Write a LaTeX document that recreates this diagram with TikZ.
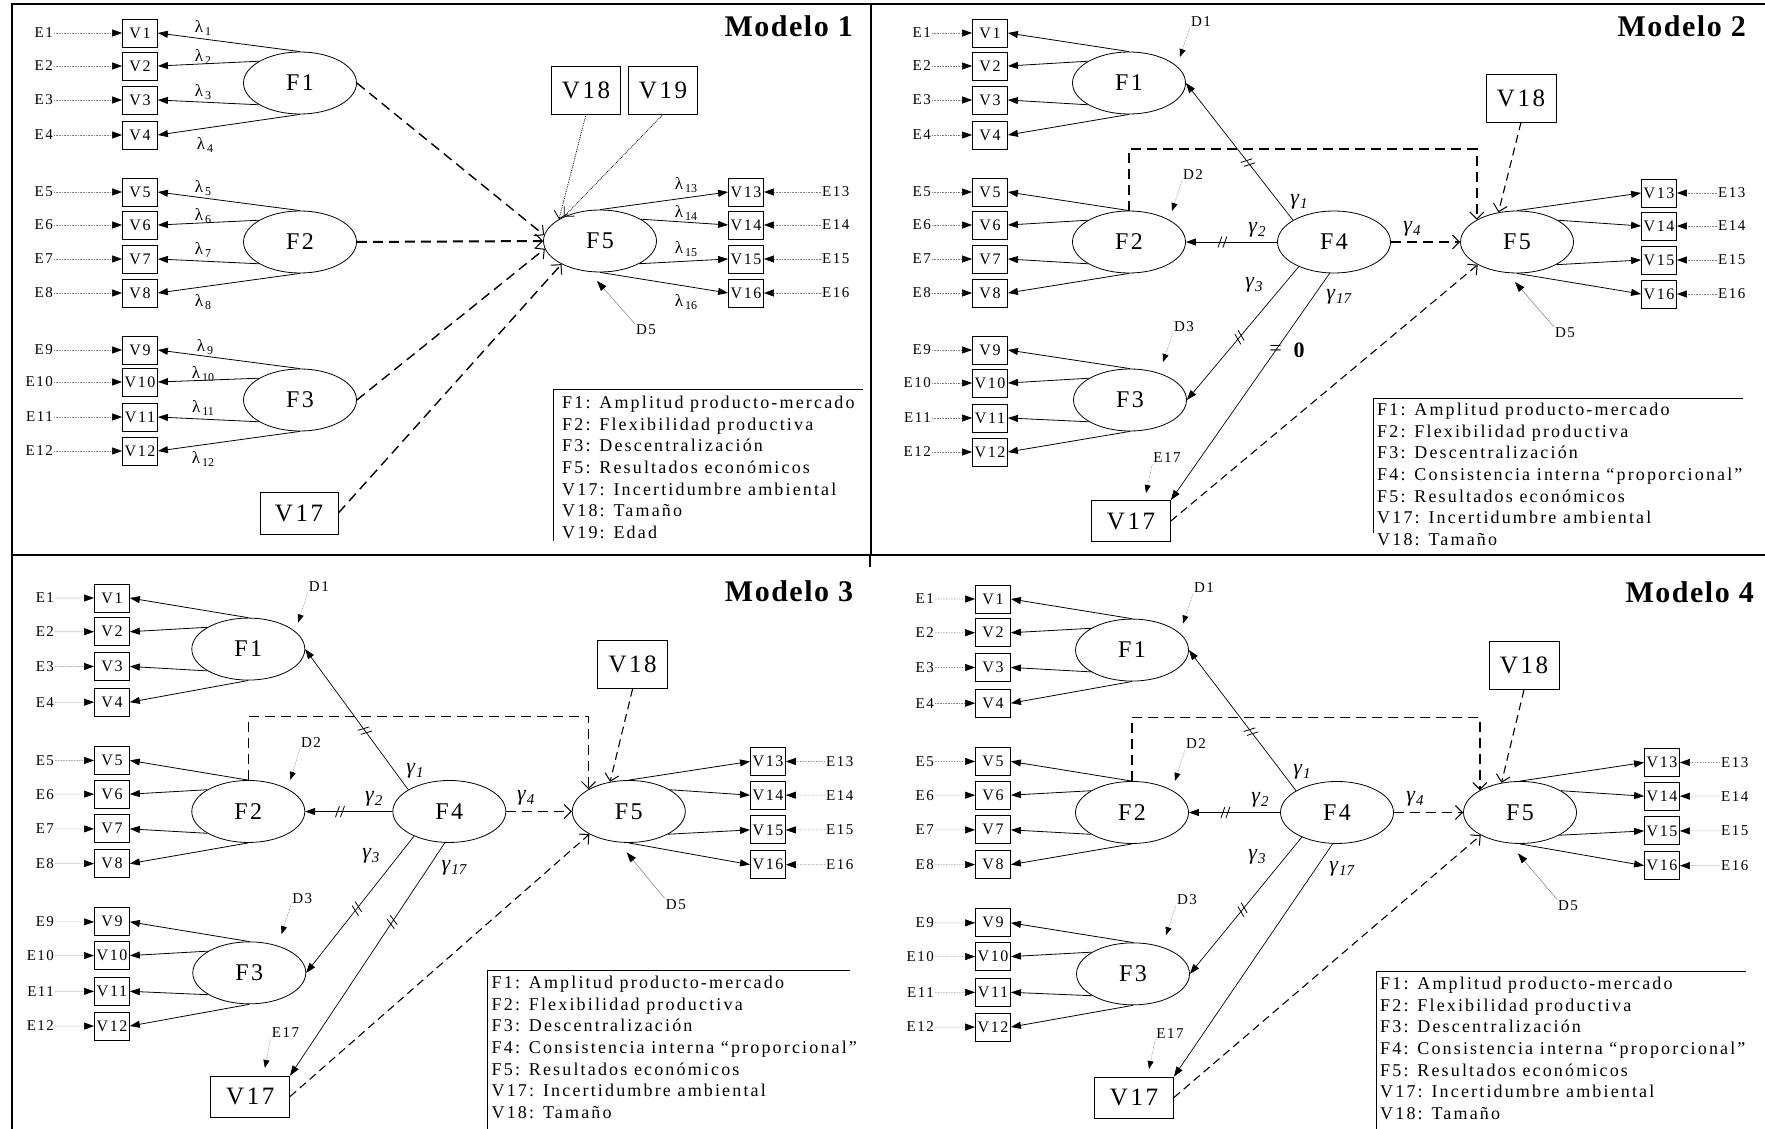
\documentclass[tikz,border=0pt]{standalone}
\usepackage{fontspec}
\setmainfont{Liberation Serif}
\newfontfamily\fspaced[LetterSpace=10]{Liberation Serif}
\newfontfamily\fwide[LetterSpace=12]{Liberation Serif}
\newfontfamily\ftitle[LetterSpace=5]{Liberation Serif}
\usetikzlibrary{arrows.meta,shapes.geometric,decorations.markings}

\newcommand\fsz[1]{\fontsize{#1}{#1}\selectfont}
\newcommand\lam[1]{λ\kern2pt\raisebox{-3pt}{\fsz{12}#1}}
\newcommand\gam[1]{\textit{γ}\kern0.5pt\raisebox{-4pt}{\fsz{15}\textit{#1}}}

\tikzset{
  x=1pt, y=-1pt,
  obs/.style={draw, line width=0.8pt, minimum width=35pt, minimum height=28pt,
    inner sep=0pt, font=\fspaced\fsz{16}},
  bigbox/.style={draw, line width=0.8pt, minimum width=70pt, minimum height=48pt,
    inner sep=0pt, font=\fspaced\fsz{25}},
  lat/.style={draw, ellipse, line width=0.8pt, minimum width=113pt,
    minimum height=62pt, inner sep=0pt, font=\fspaced\fsz{24}},
  lbl/.style={inner sep=1pt, font=\fspaced\fsz{15}},
  lamlbl/.style={inner sep=0pt, font=\fsz{17}},
  gamlbl/.style={inner sep=0pt, font=\fsz{22}},
  title/.style={anchor=east, inner sep=0pt, font=\ftitle\bfseries\fsz{30}},
  legend/.style={anchor=north west, inner sep=0pt, align=left,
    font=\fwide\fontsize{18}{21.6}\selectfont},
  load/.style={line width=0.8pt, -{Triangle[length=10pt,width=7pt]}},
  gpath/.style={line width=0.7pt, -{Triangle[length=10pt,width=7pt]}},
  errarrow/.style={line width=0.6pt, gray, densely dotted,
    -{Triangle[length=10pt,width=7pt,color=black]}},
  distarrow/.style={line width=0.6pt, gray, densely dotted,
    -{Triangle[length=8pt,width=6pt,color=black]}},
  thinarrow/.style={line width=0.5pt, gray,
    -{Triangle[length=10pt,width=7pt,color=black]}},
  effect/.style={line width=1.4pt, dash pattern=on 10pt off 6pt,
    -{Straight Barb[length=7pt,width=14pt,line width=1pt]}},
  effectthin/.style={line width=1.1pt, dash pattern=on 8pt off 5pt,
    -{Straight Barb[length=7pt,width=14pt,line width=1pt]}},
  dotarrow/.style={line width=0.8pt, densely dotted,
    -{Straight Barb[length=7pt,width=14pt,line width=0.8pt]}},
  eqtick/.style={postaction={decorate, decoration={markings,
    mark=at position #1 with {\draw[-, solid, line width=0.8pt]
      (-4.5pt,-5.6pt) -- (-0.5pt,5.6pt) (0.5pt,-5.6pt) -- (4.5pt,5.6pt);}}}},
  panel/.style n args={4}{shift={(#1,#2)}, xscale=#3, yscale=#4, shift={(-990,-33)}}
}

% Structure shared by the models with the second-order factor F4
% #1 name prefix, #2 extra style of the gamma17 path, #3 end of legend rule
\newcommand\modelbody[3]{%
  \foreach \i/\y in {1/33,2/66,3/100,4/135,5/192,6/225,7/259,8/293,9/350,10/383,11/418,12/452}{
    \node[obs] (#1V\i) at (990,\y) {V\i};
    \node[lbl, anchor=east] (#1E\i) at (932,\y) {E\i};
    \draw[errarrow] (#1E\i) -- (#1V\i);
  }
  \foreach \i/\y in {13/193,14/226,15/260,16/294}{
    \node[obs] (#1V\i) at (1659,\y) {V\i};
    \node[lbl, anchor=west] (#1E\i) at (1717,\y) {E\i};
    \draw[errarrow] (#1E\i) -- (#1V\i);
  }
  \node[lat] (#1F1) at (1129,83) {F1};
  \node[lat] (#1F2) at (1129,242) {F2};
  \node[lat] (#1F3) at (1130,400) {F3};
  \node[lat] (#1F4) at (1334,242) {F4};
  \node[lat] (#1F5) at (1517,242) {F5};
  \foreach \f/\va/\vb/\vc/\vd in {1/1/2/3/4,2/5/6/7/8,3/9/10/11/12}{
    \draw[load] (#1F\f.north) -- (#1V\va.east);
    \draw[load] (#1F\f.152) -- (#1V\vb.east);
    \draw[load] (#1F\f.208) -- (#1V\vc.east);
    \draw[load] (#1F\f.south) -- (#1V\vd.east);
  }
  \draw[load] (#1F5.north) -- (#1V13.west);
  \draw[load] (#1F5.28) -- (#1V14.west);
  \draw[load] (#1F5.-30) -- (#1V15.west);
  \draw[load] (#1F5.south) -- (#1V16.west);
  \node[bigbox] (#1V18) at (1521,98) {V18};
  \node[bigbox, minimum width=79pt, minimum height=41pt] (#1V17) at (1131,521) {V17};
  % disturbances
  \node[lbl] (#1D1) at (1201,22) {D1};
  \coordinate (#1D1t) at (1180,57);
  \draw[distarrow] (#1D1.south west) -- (#1D1t);
  \node[lbl] (#1D2) at (1193,175) {D2};
  \coordinate (#1D2t) at (1172,211);
  \draw[distarrow] (#1D2.south west) -- (#1D2t);
  \node[lbl] (#1D3) at (1184,327) {D3};
  \coordinate (#1D3t) at (1163,362);
  \draw[distarrow] (#1D3.south west) -- (#1D3t);
  \node[lbl] (#1E17) at (1167,458) {E17};
  \coordinate (#1E17t) at (1146,493);
  \draw[distarrow] (#1E17.south west) -- (#1E17t);
  \node[lbl] (#1D5) at (1565,333) {D5};
  \coordinate (#1D5t) at (1515,282);
  \draw[thinarrow] (#1D5.north west) -- (#1D5t);
  % effects on F5
  \coordinate (#1top) at (1129,149);
  \draw[effect] (#1F2.north) -- (#1F2.north |- #1top) -| (#1F5.151);
  \draw[effect] (#1F4.east) -- (#1F5.west);
  \draw[effectthin] (#1V18.south) -- (#1F5.122);
  \draw[effectthin] (#1V17.east) -- (#1F5.210);
  % second-order loadings
  \draw[gpath, eqtick=0.42] (#1F4.152) -- (#1F1.east);
  \draw[gpath, eqtick=0.6] (#1F4.west) -- (#1F2.east);
  \draw[gpath, eqtick=0.53] (#1F4.215) -- (#1F3.east);
  \draw[gpath, #2] (#1F4.262) -- coordinate[pos=0.34] (#1t17) (#1V17.north east);
  \node[gamlbl] at (1299,202) {\gam{1}};
  \node[gamlbl] at (1257,230) {\gam{2}};
  \node[gamlbl] at (1254,285) {\gam{3}};
  \node[gamlbl] at (1412,229) {\gam{4}};
  \node[gamlbl] at (1339,297) {\gam{17}};
  % legend
  \draw[line width=0.8pt] (1743,398) -- (1373,398) -- (1373,#3);
  \node[legend] at (1377,403) {F1: Amplitud producto-mercado\\F2: Flexibilidad productiva\\F3: Descentralización\\F4: Consistencia interna “proporcional”\\F5: Resultados económicos\\V17: Incertidumbre ambiental\\V18: Tamaño};
}

\begin{document}
\begin{tikzpicture}
\useasboundingbox (0,0) rectangle (1765,1129);
\fill[white] (0,0) rectangle (1765,1129);

% frame
\draw[line width=2pt] (12,1129) -- (12,4) -- (1765,4);
\draw[line width=1.5pt] (871,4) -- (871,555);
\draw[line width=1.5pt] (12,555) -- (1765,555);
\draw[line width=1.5pt] (870,555) -- (870,567);

% ---------------- Modelo 1 ----------------
\foreach \i/\y in {1/33,2/66,3/100,4/135,5/192,6/225,7/259,8/293,9/350,10/382,11/417,12/451}{
  \node[obs] (aV\i) at (140,\y) {V\i};
  \node[lbl, anchor=east] (aE\i) at (54,\y) {E\i};
  \draw[errarrow] (aE\i) -- (aV\i);
}
\foreach \i/\y in {13/192,14/225,15/259,16/293}{
  \node[obs] (aV\i) at (746,\y) {V\i};
  \node[lbl, anchor=west] (aE\i) at (821,\y) {E\i};
  \draw[errarrow] (aE\i) -- (aV\i);
}
\node[lat] (aF1) at (300,83) {F1};
\node[lat] (aF2) at (300,242) {F2};
\node[lat] (aF3) at (300,400) {F3};
\node[lat] (aF5) at (600,241) {F5};
\foreach \f/\va/\vb/\vc/\vd in {1/1/2/3/4,2/5/6/7/8,3/9/10/11/12}{
  \draw[load] (aF\f.north) -- (aV\va.east);
  \draw[load] (aF\f.152) -- (aV\vb.east);
  \draw[load] (aF\f.208) -- (aV\vc.east);
  \draw[load] (aF\f.south) -- (aV\vd.east);
}
\draw[load] (aF5.north) -- (aV13.west);
\draw[load] (aF5.28) -- (aV14.west);
\draw[load] (aF5.-30) -- (aV15.west);
\draw[load] (aF5.south) -- (aV16.west);
\foreach \i/\x/\y in {1/203/28,2/203/57,3/203/92,4/205/145,5/203/188,6/203/216,7/203/250,8/203/302,
  9/205/347,10/203/374,11/203/408,12/203/459,13/686/185,14/686/213,15/686/249,16/686/302}
  \node[lamlbl] at (\x,\y) {\lam{\i}};
\node[bigbox, minimum width=69pt] (aV18) at (586,90) {V18};
\node[bigbox, minimum width=69pt] (aV19) at (663,90) {V19};
\node[bigbox, minimum width=78pt, minimum height=42pt] (aV17) at (299,513) {V17};
\draw[dotarrow] (aV18.south) -- (aF5.152);
\draw[dotarrow] (aV19.south) -- (aF5.146);
\draw[effect] (aF1.east) -- (aF5.174);
\draw[effect, line width=2pt] (aF2.east) -- (aF5.west);
\draw[effect] (aF3.east) -- (aF5.188);
\draw[effect] (aV17.east) -- (aF5.211);
\node[lbl] (aD5) at (646,330) {D5};
\coordinate (aD5t) at (597,281);
\draw[thinarrow] (aD5.north west) -- (aD5t);
\draw[line width=0.8pt] (863,389) -- (553,389) -- (553,541);
\node[legend] at (562,396) {F1: Amplitud producto-mercado\\F2: Flexibilidad productiva\\F3: Descentralización\\F5: Resultados económicos\\V17: Incertidumbre ambiental\\V18: Tamaño\\V19: Edad};
\node[title] at (853,26) {Modelo 1};

% ---------------- Modelo 2 ----------------
\begin{scope}[panel={990}{33}{1}{1}]
  \modelbody{b}{}{533}
  \node[title] at (1746,26) {Modelo 2};
  \node[inner sep=0pt, font=\fsz{22}] at (bt17) {=};
  \node[inner sep=0pt, font=\bfseries\fsz{22}] at (1299,350) {0};
\end{scope}

% ---------------- Modelo 3 ----------------
\begin{scope}[panel={112}{598}{0.9806}{1.0214}]
  \modelbody{c}{eqtick=0.34}{553}
  \node[title] at (1746,26) {Modelo 3};
\end{scope}

% ---------------- Modelo 4 ----------------
\begin{scope}[panel={993}{599}{1}{1.0214}]
  \modelbody{d}{}{553}
  \node[title] at (1751,26) {Modelo 4};
\end{scope}
\end{tikzpicture}
\end{document}
